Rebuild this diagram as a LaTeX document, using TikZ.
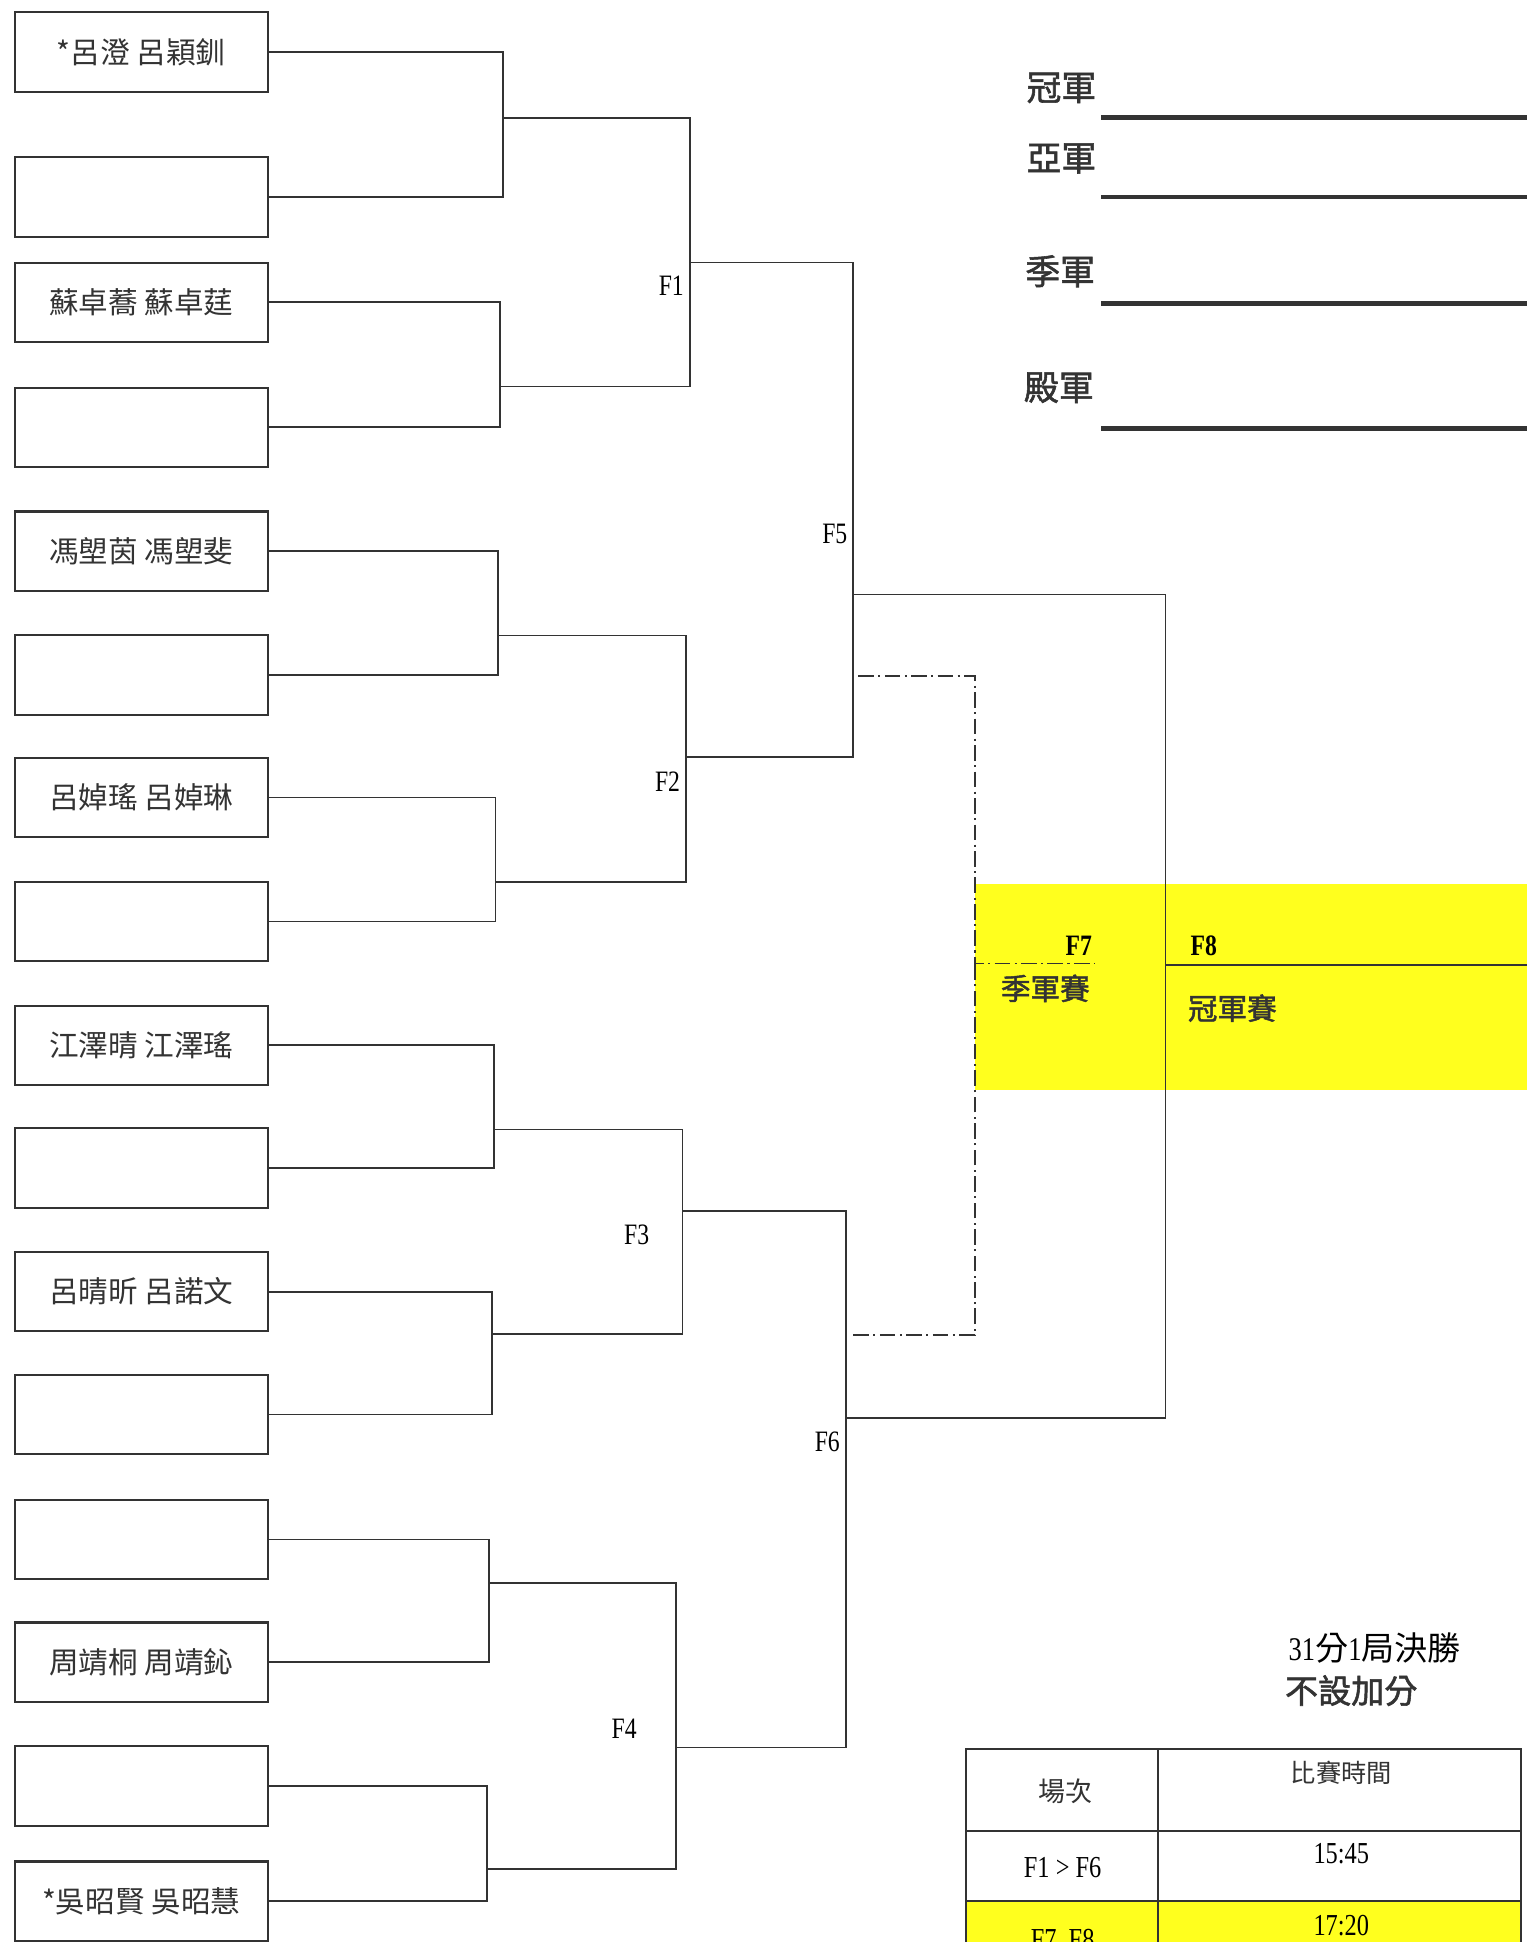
\documentclass[tikz,border=0pt]{standalone}
\usepackage{fontspec}
\setmainfont{Liberation Serif}[FakeStretch=0.8]
\newfontfamily\cjk{Noto Sans CJK TC}
\newfontfamily\cjkbold{Noto Sans CJK TC}[FakeBold=1.6]
\usetikzlibrary{positioning, calc}
\usepackage{xcolor}
\definecolor{ink}{HTML}{333333}
\definecolor{marker}{HTML}{FFFF1E}

\begin{document}
\begin{tikzpicture}[
    x=0.025cm, y=-0.025cm,
    namebox/.style={draw=ink, line width=1.2pt, minimum width=5.1cm, minimum height=1.6cm, inner sep=0pt, text=ink, font=\cjk\fontsize{17}{19}\selectfont},
    wire/.style={draw=ink, line width=1pt},
    dashwire/.style={draw=ink, line width=1pt, dash pattern=on 9pt off 2.5pt on 1.2pt off 2.5pt},
    flab/.style={text=black, font=\fontsize{17}{19}\selectfont},
    fbold/.style={text=black, font=\bfseries\fontsize{17}{19}\selectfont},
    podium/.style={text=ink, font=\cjkbold\fontsize{20}{24}\selectfont},
    blank/.style={draw=ink, line width=2.6pt},
    cell/.style={text=ink, font=\cjk\fontsize{15.5}{18}\selectfont},
    num/.style={text=black, font=\fontsize{17.5}{19}\selectfont}
  ]
  \useasboundingbox (0,0) rectangle (1233,1568);
  \clip (0,0) rectangle (1233,1568);
  \fill[white] (0,0) rectangle (1233,1568);

  % highlight for the final round
  \fill[marker] (787,714) rectangle (1233,880);
  \fill[marker] (780,1535) rectangle (1228,1600);

  % entries
  \foreach \i/\y/\who in {1/42/{*呂澄 呂穎釧}, 2/159/{}, 3/244/{蘇卓蕎 蘇卓莛}, 4/345/{},
      5/445/{馮塱茵 馮塱斐}, 6/545/{}, 7/644/{呂婥瑤 呂婥琳}, 8/744/{},
      9/844/{江澤晴 江澤瑤}, 10/943/{}, 11/1043/{呂晴昕 呂諾文}, 12/1142/{},
      13/1243/{}, 14/1342/{周靖桐 周靖鈊}, 15/1442/{}, 16/1535/{*吳昭賢 吳昭慧}}
    \node[namebox] (b\i) at (114,\y) {\who};

  % bracket joints
  \coordinate (m1) at (406,95);
  \coordinate (m2) at (404,312);
  \coordinate (m3) at (402,513);
  \coordinate (m4) at (400,712);
  \coordinate (m5) at (399,912);
  \coordinate (m6) at (397,1077);
  \coordinate (m7) at (395,1278);
  \coordinate (m8) at (393,1509);
  \coordinate (f1) at (557,212);
  \coordinate (f2) at (554,611);
  \coordinate (f3) at (551,978);
  \coordinate (f4) at (546,1411);
  \coordinate (f5) at (689,480);
  \coordinate (f6) at (683,1145);
  \coordinate (f8) at (941,779);
  \coordinate (f8end) at (1233,779);
  \coordinate (f7) at (787,778);
  \coordinate (f7end) at (884,778);
  \coordinate (d1) at (693,546);
  \coordinate (d2) at (689,1078);

  \foreach \a/\b/\m in {1/2/1, 3/4/2, 5/6/3, 7/8/4, 9/10/5, 11/12/6, 13/14/7, 15/16/8}
    \draw[wire] (b\a.east) -| (m\m) |- (b\b.east);
  \foreach \a/\b/\f in {1/2/1, 3/4/2, 5/6/3, 7/8/4}
    \draw[wire] (m\a) -| (f\f) |- (m\b);
  \draw[wire] (f1) -| (f5) |- (f2);
  \draw[wire] (f3) -| (f6) |- (f4);
  \draw[wire] (f5) -| (f8) |- (f6);
  \draw[wire] (f8) -- (f8end);
  % third place play-off
  \draw[dashwire] (d1) -| (f7) -- (f7end);
  \draw[dashwire] (d2) -| (f7);

  % match labels
  \node[flab] (lf1) at (542,231) {F1};
  \node[flab] (lf2) at (539,631) {F2};
  \node[flab] (lf3) at (514,997) {F3};
  \node[flab] (lf4) at (504,1396) {F4};
  \node[flab] (lf5) at (674,431) {F5};
  \node[flab] (lf6) at (668,1164) {F6};
  \node[fbold] (lf7) at (871,764) {F7};
  \node[fbold] (lf8) at (972,764) {F8};
  \node[podium, font=\cjkbold\fontsize{17}{20}\selectfont] (bronzegame) at (844,798) {季軍賽};
  \node[podium, font=\cjkbold\fontsize{17}{20}\selectfont] (finalgame) at (995,814) {冠軍賽};

  % placings
  \node[podium] (gold) at (857,71) {冠軍};
  \node[podium] (silver) at (857,128) {亞軍};
  \node[podium] (bronze) at (856,219) {季軍};
  \node[podium] (fourth) at (855,313) {殿軍};
  \draw[blank] (889,95) -- (1233,95);
  \draw[blank] (889,159) -- (1233,159);
  \draw[blank] (889,245) -- (1233,245);
  \draw[blank] (889,346) -- (1233,346);

  % rules and schedule
  \node[num, font=\fontsize{19}{22}\selectfont] (rule1) at (1110,1331) {31{\cjk 分}1{\cjk 局決勝}};
  \node[podium, font=\cjkbold\fontsize{19}{22}\selectfont] (rule2) at (1091,1365) {不設加分};
  \draw[wire, line width=1.2pt] (780,1412) rectangle (1228,1620);
  \draw[wire, line width=1.2pt] (780,1478) -- (1228,1478);
  \draw[wire, line width=1.2pt] (780,1535) -- (1228,1535);
  \draw[wire, line width=1.2pt] (935,1412) -- (935,1620);
  \node[cell] (head1) at (860,1446) {場次};
  \node[cell, font=\cjk\fontsize{14.5}{17}\selectfont] (head2) at (1083,1431) {比賽時間};
  \node[num] (row1a) at (858,1508) {F1 > F6};
  \node[num] (row1b) at (1083,1497) {15:45};
  \node[num] (row2a) at (858,1566) {F7\ \ F8};
  \node[num] (row2b) at (1083,1555) {17:20};
\end{tikzpicture}
\end{document}
